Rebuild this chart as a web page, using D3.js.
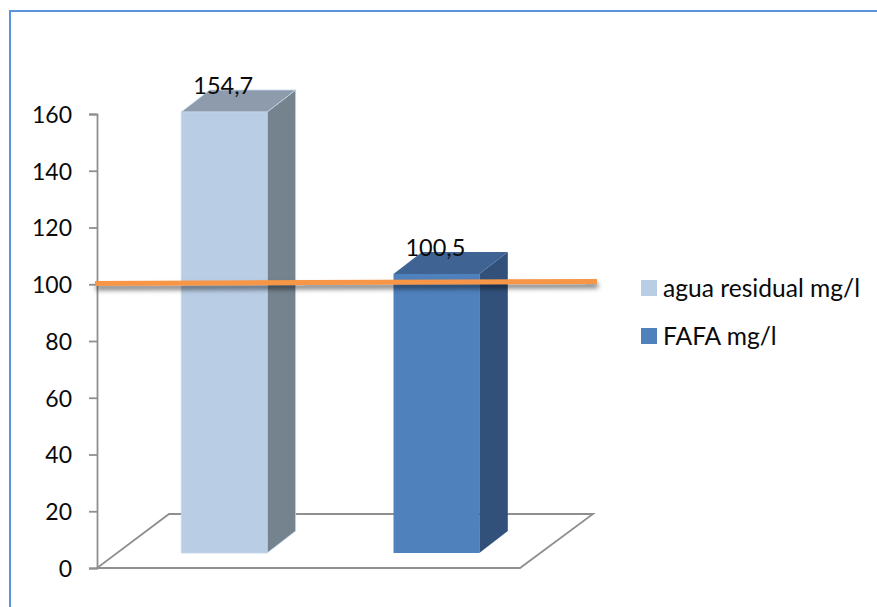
<!DOCTYPE html>
<html><head><meta charset="utf-8">
<script src="https://cdn.jsdelivr.net/npm/d3@7"></script>
<style>html,body{margin:0;padding:0;background:#fff;overflow:hidden}svg{display:block}text{font-family:Lato,"Open Sans",sans-serif;fill:#0a0a0a}</style>
</head><body><svg id="c" width="877" height="607"></svg>
<script>
const categories = ["agua residual mg/l", "FAFA mg/l"];
const values = [154.7, 100.5];
const valueLabels = ["154,7", "100,5"];
const tickValues = [0, 20, 40, 60, 80, 100, 120, 140, 160];
const referenceLine = [100.3, 101];
const frontColors = ["#b9cde5", "#4f81bd"];
const edgeColors = ["#c3d5ea", "none"];
const topColors = ["#8e9bad", "#3f6493"];
const sideColors = ["#75838f", "#31517a"];

const svg = d3.select("#c");
const y = d3.scaleLinear().domain([0, 160]).range([568, 114]);
const barY = d3.scaleLinear().domain([0, 100.5, 154.7]).range([553, 274, 112]);
const x = d3.scaleBand().domain(categories).range([181.3, 479.3]).paddingInner(0.5957).paddingOuter(0);
const dx = 28.5, dy = -22;

const defs = svg.append("defs");
const f = defs.append("filter").attr("id", "sh").attr("filterUnits", "userSpaceOnUse")
  .attr("x", 70).attr("y", 260).attr("width", 560).attr("height", 50);
f.append("feDropShadow").attr("dx", 1).attr("dy", 4).attr("stdDeviation", 2.6).attr("flood-color", "#000").attr("flood-opacity", 0.55);

// frame: only the top and left edges are visible
svg.append("path").attr("d", "M877,11H10V607").attr("fill", "none").attr("stroke", "#5b94de").attr("stroke-width", 2);

// floor
const floor = [[97, y(0)], [520, y(0)], [593, 514], [169, 514]];
svg.append("path").attr("d", d3.line()(floor) + "Z").attr("fill", "none").attr("stroke", "#8f8f8f").attr("stroke-width", 1.8);

// axis
const axis = d3.axisLeft(y).tickValues(tickValues).tickSize(8).tickPadding(17).tickFormat(d3.format("d"));
const ag = svg.append("g").attr("transform", "translate(97,0)").call(axis);
ag.selectAll("path,line").attr("stroke", "#8f8f8f").attr("stroke-width", 1.8);
ag.selectAll("text").attr("dy", "0.36em").style("font-family", 'Lato,"Open Sans",sans-serif').style("font-size", "23px").attr("fill", "#0a0a0a");

// bars
categories.forEach((c, i) => {
  const g = svg.append("g").attr("stroke", edgeColors[i]).attr("stroke-width", 0.8).attr("stroke-linejoin", "round");
  const l = x(c), r = l + x.bandwidth(), t = barY(values[i]), b = barY(0);
  const poly = p => d3.line()(p) + "Z";
  g.append("path").attr("d", poly([[r, t], [r + dx, t + dy], [r + dx, b + dy], [r, b]])).attr("fill", sideColors[i]);
  g.append("path").attr("d", poly([[l, t], [l + dx, t + dy], [r + dx, t + dy], [r, t]])).attr("fill", topColors[i]);
  g.append("rect").attr("x", l).attr("y", t).attr("width", x.bandwidth()).attr("height", b - t).attr("fill", frontColors[i]);
  svg.append("text").attr("x", l + x.bandwidth() / 2 - 1).attr("y", t - 18).attr("text-anchor", "middle")
    .style("font-size", "23.5px").text(valueLabels[i]);
});

// orange reference line
svg.append("line").attr("x1", 95).attr("x2", 597).attr("y1", y(referenceLine[0])).attr("y2", y(referenceLine[1]))
  .attr("stroke", "#f79646").attr("stroke-width", 5).attr("filter", "url(#sh)");

// legend
const ly = [296, 344];
categories.forEach((c, i) => {
  svg.append("rect").attr("x", 641).attr("y", ly[i] - 16).attr("width", 16).attr("height", 16).attr("fill", frontColors[i]);
  svg.append("text").attr("x", 663).attr("y", ly[i] + 1).style("font-size", "24.6px").text(c);
});
</script></body></html>
